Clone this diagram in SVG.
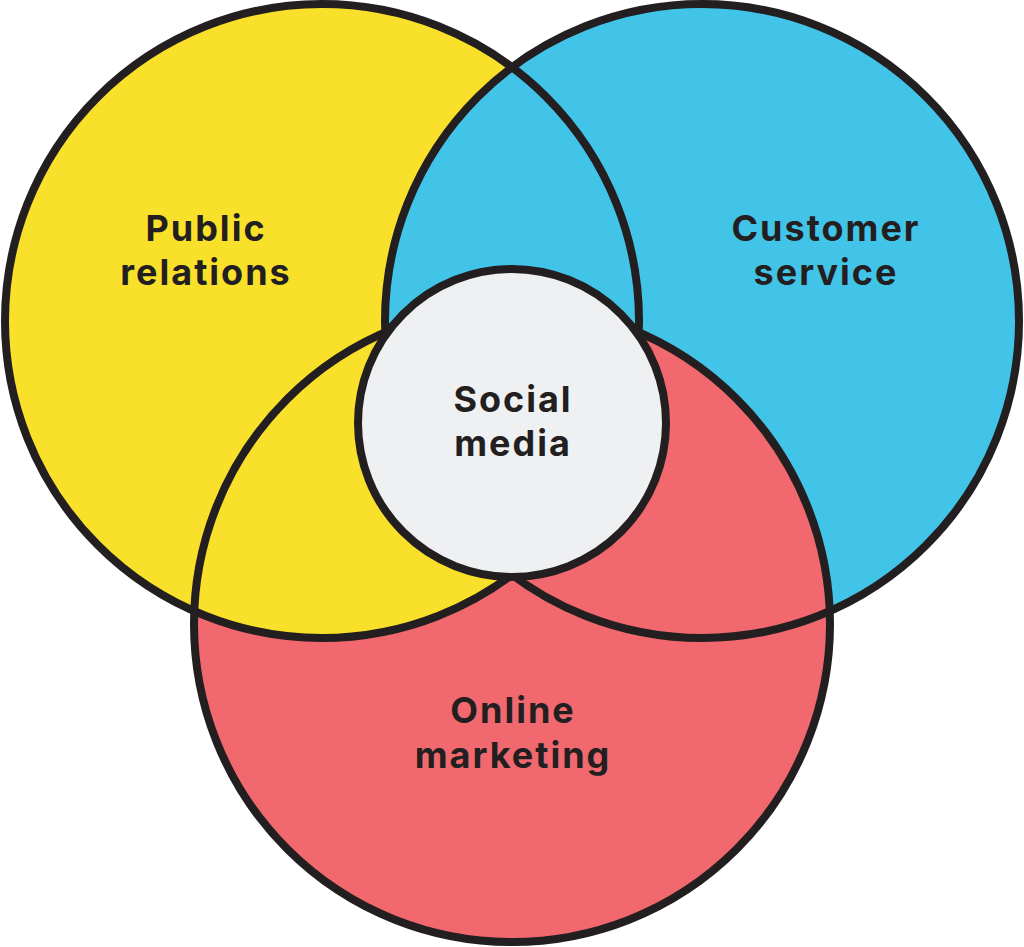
<svg xmlns="http://www.w3.org/2000/svg" width="1024" height="947" viewBox="0 0 1024 947">
<style>
.o{fill:none;stroke:#231f20;stroke-width:8}
text{font-family:"Inter","Noto Sans",sans-serif;font-weight:700;font-size:36px;letter-spacing:2px;fill:#231f20;text-anchor:middle}
</style>
<defs>
<clipPath id="cr"><circle cx="512" cy="624" r="318"/></clipPath>
</defs>
<g id="fills">
<circle cx="322" cy="321" r="317" fill="#F9E02A"/>
<circle cx="702" cy="321" r="317" fill="#42C4E9"/>
<circle cx="512" cy="624" r="318" fill="#F1696F"/>
<circle cx="322" cy="321" r="317" fill="#F9E02A" clip-path="url(#cr)"/>
</g>
<g id="outlines">
<circle class="o" cx="322" cy="321" r="317"/>
<circle class="o" cx="702" cy="321" r="317"/>
<circle class="o" cx="512" cy="624" r="318"/>
</g>
<g id="public"><text x="206" y="241">Public</text><text x="206" y="285">relations</text></g>
<g id="customer"><text x="826" y="241">Customer</text><text x="826" y="285">service</text></g>
<g id="online"><text x="513" y="723">Online</text><text x="513" y="768">marketing</text></g>
<g id="social">
<circle cx="512" cy="423" r="154" fill="#EFF0F2" stroke="#231f20" stroke-width="8"/>
<text x="513" y="412">Social</text><text x="513" y="456">media</text>
</g>
</svg>
